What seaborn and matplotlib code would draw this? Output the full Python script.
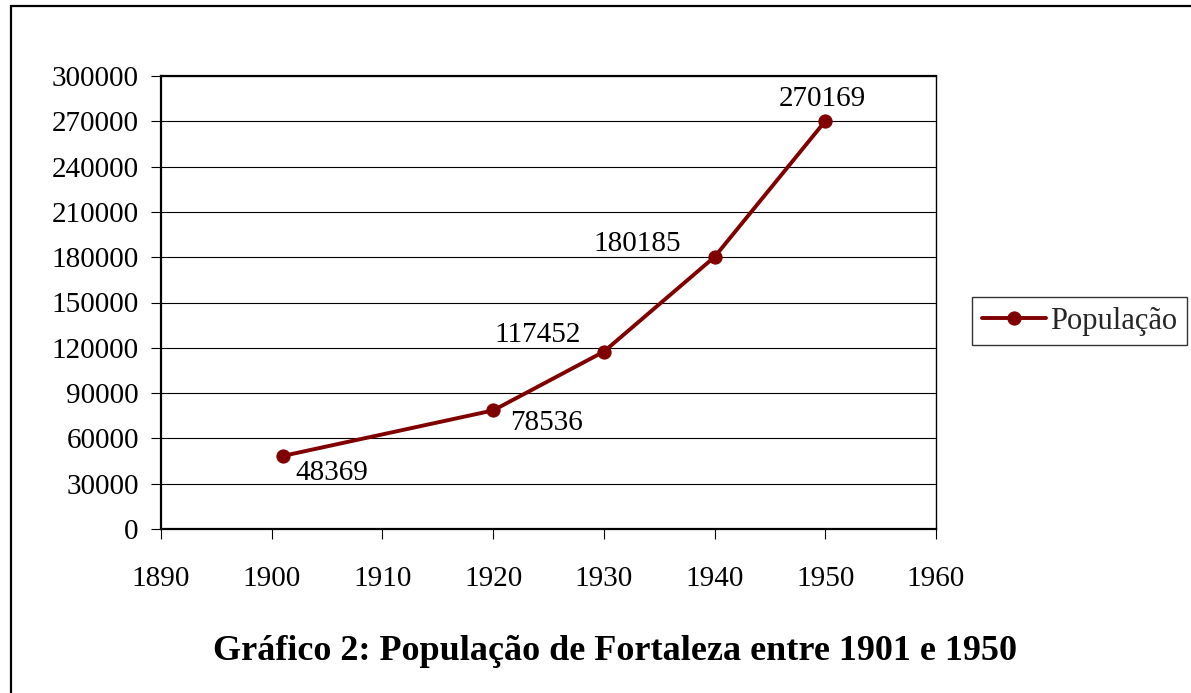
import matplotlib
matplotlib.use("Agg")
import matplotlib.pyplot as plt
import matplotlib.ticker as mticker
from matplotlib.patches import Rectangle
import pandas as pd
import seaborn as sns

# Population of Fortaleza, census years
years = [1901, 1920, 1930, 1940, 1950]
population = [48369, 78536, 117452, 180185, 270169]
series_name = "População"
title_text = "Gráfico 2: População de Fortaleza entre 1901 e 1950"
x_ticks = [1890, 1900, 1910, 1920, 1930, 1940, 1950, 1960]
y_ticks = list(range(0, 300001, 30000))

# label offsets (points) and alignment for each value label
label_offsets = [(9, -12), (12, -9), (-16.5, 12), (-24, 9), (-2, 16)]
label_ha = ["left", "left", "right", "right", "center"]

sns.set_theme(style="white")
plt.rcParams["font.family"] = ["Liberation Serif", "DejaVu Serif"]

line_color = "#800000"
df = pd.DataFrame({"Ano": years, series_name: population})

fig = plt.figure(figsize=(11.91, 6.93), dpi=100)
fig.patch.set_facecolor("white")
ax = fig.add_axes([161 / 1191, 1 - 529 / 693, (936 - 161) / 1191, (529 - 76) / 693])

sns.lineplot(data=df, x="Ano", y=series_name, ax=ax, color=line_color,
             linewidth=2.8, marker="o", markersize=9.5, markeredgecolor=line_color,
             markerfacecolor=line_color, label=series_name, zorder=3)

ax.set_xlim(1890, 1960)
ax.set_ylim(0, 300000)
ax.set_xticks(x_ticks)
ax.set_yticks(y_ticks)
ax.yaxis.set_major_formatter(mticker.FuncFormatter(lambda v, p: f"{int(v)}"))
ax.xaxis.set_major_formatter(mticker.FuncFormatter(lambda v, p: f"{int(v)}"))
ax.set_xlabel("")
ax.set_ylabel("")

ax.grid(axis="y", color="black", linewidth=0.8)
ax.grid(axis="x", visible=False)
ax.set_axisbelow(True)

for side in ["left", "bottom", "top"]:
    ax.spines[side].set_linewidth(1.6)
    ax.spines[side].set_color("black")
ax.spines["right"].set_linewidth(1.0)
ax.spines["right"].set_color("black")

ax.tick_params(axis="y", direction="out", length=7, width=0.8, pad=9,
               labelsize=21, colors="black", left=True)
ax.tick_params(axis="x", direction="out", length=7, width=0.8, pad=20,
               labelsize=21, colors="black", bottom=True)

for x, y, off, ha in zip(years, population, label_offsets, label_ha):
    ax.annotate(f"{y}", (x, y), xytext=off, textcoords="offset points",
                ha=ha, va="center", fontsize=21, color="black")

leg = ax.legend(loc="center left", bbox_to_anchor=(972 / 1191, 1 - 321 / 693),
                bbox_transform=fig.transFigure, fontsize=22, frameon=True,
                fancybox=False, handlelength=2.1, handletextpad=0.12,
                borderpad=0.32, borderaxespad=0)
leg.get_frame().set_edgecolor("black")
leg.get_frame().set_linewidth(1.0)

fig.text(615 / 1191, 1 - 652 / 693, title_text, ha="center", va="center",
         fontsize=26, fontweight="bold", color="black")

# outer chart frame
fig.patches.append(Rectangle((11 / 1191, -0.1), 1.2, 1 - 6 / 693 + 0.1,
                             transform=fig.transFigure, fill=False,
                             edgecolor="black", linewidth=1.6))

fig.savefig("out.png", dpi=100, facecolor="white")
